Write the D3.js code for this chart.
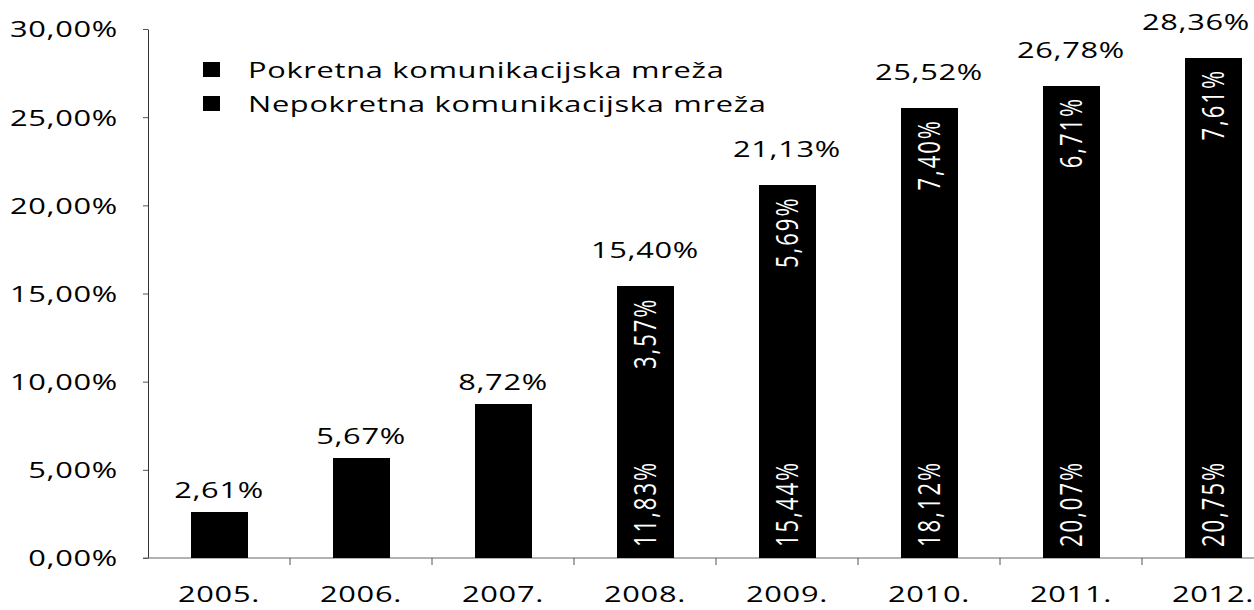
<!DOCTYPE html>
<html lang="hr">
<head>
    <meta charset="UTF-8" />
    <title>Pokretna i nepokretna komunikacijska mreža</title>
    <script src="https://d3js.org/d3.v7.min.js"></script>
    <style>
        body { margin: 0; background: #fff; }
        svg text { font-family: "Open Sans", "Noto Sans", sans-serif; font-size: 22px; fill: #000; }
        rect { shape-rendering: crispEdges; }
    </style>
</head>
<body>
    <div id="chart"></div>
    <script>
        // --- Data ---
        const years = ["2005.", "2006.", "2007.", "2008.", "2009.", "2010.", "2011.", "2012."];
        const totals = [2.61, 5.67, 8.72, 15.40, 21.13, 25.52, 26.78, 28.36];
        const pokretna = [null, null, null, 11.83, 15.44, 18.12, 20.07, 20.75];
        const nepokretna = [null, null, null, 3.57, 5.69, 7.40, 6.71, 7.61];
        const seriesNames = ["Pokretna komunikacijska mreža", "Nepokretna komunikacijska mreža"];
        const yTicks = [0, 5, 10, 15, 20, 25, 30];

        const W = 1254, H = 610;
        const SX = 1.4; // the picture is stretched sideways
        const fmt = v => v.toFixed(2).replace(".", ",") + "%";

        const svg = d3.select("#chart").append("svg")
            .attr("width", W)
            .attr("height", H);

        const x = d3.scaleBand()
            .domain(years)
            .range([148, 148 + 142 * years.length])
            .paddingInner(0.6)
            .paddingOuter(0.3);

        const y = d3.scaleLinear().domain([0, 30]).range([558, 29]);

        // stretched text helper
        function label(g, px, py, str, anchor, rot) {
            return g.append("text")
                .attr("transform", `translate(${px},${py}) scale(${SX},1)` + (rot ? " rotate(-90)" : ""))
                .attr("text-anchor", anchor)
                .text(str);
        }

        // Y axis
        const yAxis = svg.append("g")
            .attr("transform", "translate(148,0)")
            .call(d3.axisLeft(y).tickValues(yTicks).tickFormat(fmt).tickSize(5).tickSizeOuter(0));
        yAxis.select(".domain").attr("stroke", "#333");
        yAxis.selectAll(".tick line").attr("stroke", "#555");
        yAxis.selectAll(".tick text")
            .attr("x", null)
            .attr("dy", "0.36em")
            .attr("transform", `translate(-30,0) scale(${SX},1)`)
            .style("letter-spacing", "0.5px")
            .style("font-size", "22px")
            .style("font-family", "'Open Sans', sans-serif");

        // X axis line + boundary ticks
        const xg = svg.append("g");
        xg.append("line")
            .attr("x1", 143).attr("x2", W)
            .attr("y1", y(0)).attr("y2", y(0))
            .attr("stroke", "#666");
        xg.selectAll(".bt").data(years.slice(1))
            .enter().append("line")
            .attr("x1", d => x(d) - x.step() * x.paddingInner() / 2)
            .attr("x2", d => x(d) - x.step() * x.paddingInner() / 2)
            .attr("y1", y(0)).attr("y2", y(0) + 7)
            .attr("stroke", "#555");
        years.forEach(d => {
            label(xg, x(d) + x.bandwidth() / 2, 602, d, "middle").style("letter-spacing", "0.5px");
        });

        // Bars (both series are black in the original)
        const bars = svg.append("g");
        years.forEach((d, i) => {
            const bx = Math.round(x(d)), bw = Math.round(x.bandwidth());
            if (pokretna[i] == null) {
                bars.append("rect")
                    .attr("x", bx).attr("width", bw)
                    .attr("y", y(totals[i])).attr("height", y(0) - y(totals[i]))
                    .attr("fill", "#000");
            } else {
                const p = pokretna[i], n = nepokretna[i];
                bars.append("rect")
                    .attr("x", bx).attr("width", bw)
                    .attr("y", y(p)).attr("height", y(0) - y(p))
                    .attr("fill", "#000");
                bars.append("rect")
                    .attr("x", bx).attr("width", bw)
                    .attr("y", y(p + n)).attr("height", y(p) - y(p + n) + 1)
                    .attr("fill", "#000");
            }
        });

        // Labels inside stacked bars
        const inner = svg.append("g");
        years.forEach((d, i) => {
            if (pokretna[i] == null) return;
            const cx = x(d) + x.bandwidth() / 2;
            label(inner, cx, y(0) - 11, fmt(pokretna[i]), "start", true)
                .attr("dy", "0.36em").style("fill", "#fff").style("letter-spacing", "2px");
            label(inner, cx, y(pokretna[i] + nepokretna[i]) + 11, fmt(nepokretna[i]), "end", true)
                .attr("dy", "0.36em").style("fill", "#fff").style("letter-spacing", "2px");
        });

        // Total labels above bars
        const tot = svg.append("g");
        years.forEach((d, i) => {
            let cx = x(d) + x.bandwidth() / 2;
            const gap = pokretna[i] == null ? 14 : 28;
            const t = label(tot, cx, y(totals[i]) - gap, fmt(totals[i]), "middle").style("letter-spacing", "0.5px");
            const w = t.node().getComputedTextLength() * SX;
            if (cx + w / 2 > W - 4) {
                cx = W - 4 - w / 2;
                t.attr("transform", `translate(${cx},${y(totals[i]) - gap}) scale(${SX},1)`);
            }
        });

        // Legend
        const legend = svg.append("g");
        seriesNames.forEach((name, i) => {
            legend.append("rect")
                .attr("x", 203).attr("y", 62 + i * 34)
                .attr("width", 17).attr("height", 15)
                .attr("fill", "#000");
            label(legend, 248, 78 + i * 34, name, "start").style("letter-spacing", "0.5px");
        });
    </script>
</body>
</html>
